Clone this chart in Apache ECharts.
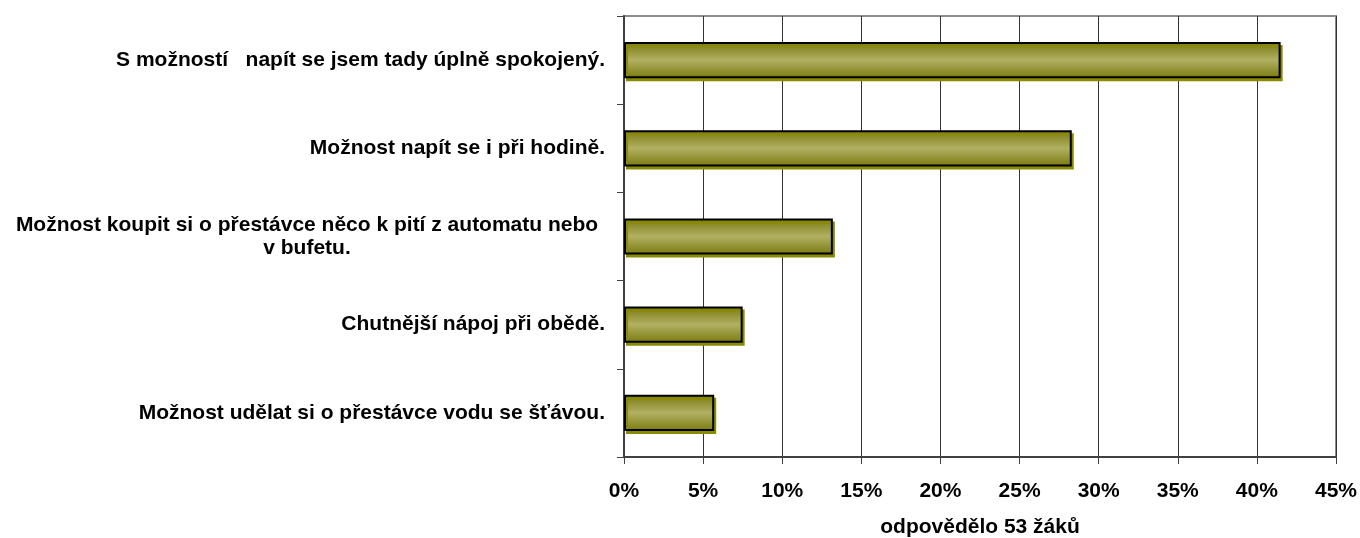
<!DOCTYPE html>
<html>
<head>
<meta charset="utf-8">
<script src="https://cdn.jsdelivr.net/npm/echarts@6/dist/echarts.min.js"></script>
<style>
  html, body { margin: 0; padding: 0; background: #ffffff; }
  #chart { width: 1360px; height: 538px; }
</style>
</head>
<body>
<div id="chart"></div>
<script>
// answers (top to bottom) and share of students, 53 respondents
const categories = [
    'S možností   napít se jsem tady úplně spokojený.',
    'Možnost napít se i při hodině.',
    'Možnost koupit si o přestávce něco k pití z automatu nebo\nv bufetu.',
    'Chutnější nápoj při obědě.',
    'Možnost udělat si o přestávce vodu se šťávou.'
];
const shares = [41.5, 28.3, 13.2, 7.5, 5.7];
const axisTitle = 'odpovědělo 53 žáků';

const chart = echarts.init(document.getElementById('chart'));

const fontFamily = '"Liberation Sans", Arial, sans-serif';

chart.setOption({
    backgroundColor: '#ffffff',
    animation: false,
    grid: {
        left: 624,
        right: 24,
        top: 16,
        bottom: 81,
        outerBoundsMode: 'none',
        show: true,
        borderColor: '#8c8c8c',
        borderWidth: 2
    },
    xAxis: {
        type: 'value',
        min: 0,
        max: 45,
        interval: 5,
        name: axisTitle,
        nameLocation: 'middle',
        nameGap: 60,
        nameTextStyle: {
            color: '#000',
            fontSize: 21,
            fontWeight: 'bold',
            fontFamily: fontFamily
        },
        axisLine: { show: true, lineStyle: { color: '#404040', width: 2 } },
        axisTick: { show: true, length: 7, lineStyle: { color: '#404040', width: 1 } },
        axisLabel: {
            margin: 24,
            color: '#000',
            fontSize: 21,
            fontWeight: 'bold',
            fontFamily: fontFamily,
            formatter: v => v + '%'
        },
        splitLine: { show: true, lineStyle: { color: '#333', width: 1 } }
    },
    yAxis: {
        type: 'category',
        inverse: true,
        data: categories,
        axisLine: { show: true, lineStyle: { color: '#404040', width: 2 } },
        axisTick: { show: true, length: 7, lineStyle: { color: '#404040', width: 1 } },
        axisLabel: {
            margin: 19,
            color: '#000',
            fontSize: 21,
            fontWeight: 'bold',
            fontFamily: fontFamily,
            lineHeight: 23,
            formatter: function (value) {
                if (value.indexOf('\n') < 0) return value;
                // wrapped label: lines centred in its block
                return value.split('\n').map(l => '{c|' + l + '}').join('\n');
            },
            rich: {
                c: {
                    width: 596,
                    align: 'center',
                    color: '#000',
                    fontSize: 21,
                    fontWeight: 'bold',
                    fontFamily: fontFamily,
                    lineHeight: 23
                }
            }
        },
        splitLine: { show: false }
    },
    series: [
        {
            type: 'bar',
            data: shares,
            barWidth: '41%',
            itemStyle: {
                color: new echarts.graphic.LinearGradient(0, 0, 0, 1, [
                    { offset: 0, color: '#7a7a10' },
                    { offset: 0.5, color: '#b0b062' },
                    { offset: 1, color: '#7a7a10' }
                ]),
                borderColor: '#000',
                borderWidth: 2,
                shadowColor: '#8a8a00',
                shadowOffsetX: 2,
                shadowOffsetY: 3,
                shadowBlur: 0
            }
        }
    ]
});
</script>
</body>
</html>
